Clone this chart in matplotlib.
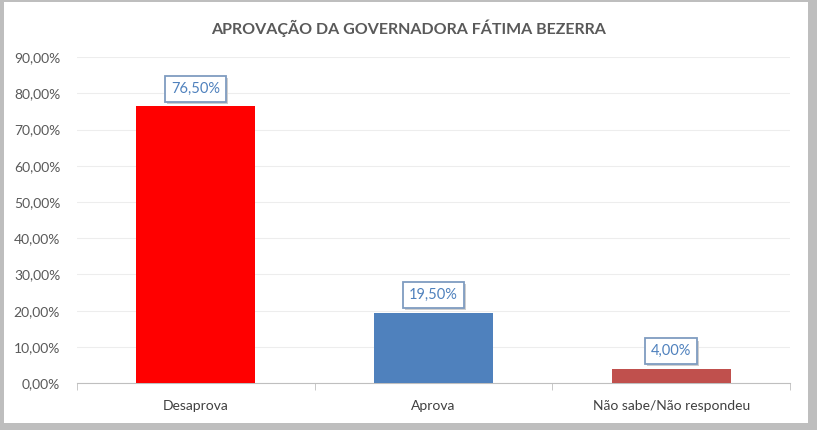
import matplotlib.pyplot as plt
import matplotlib.patheffects as pe
from matplotlib.patches import Rectangle

categorias = ["Desaprova", "Aprova", "Não sabe/Não respondeu"]
valores = [76.5, 19.5, 4.0]
rotulos = ["76,50%", "19,50%", "4,00%"]
cores = ["#FF0000", "#4F81BD", "#C0504D"]
yticks = [0, 10, 20, 30, 40, 50, 60, 70, 80, 90]

plt.rcParams['font.family'] = ['Lato', 'DejaVu Sans']

fig = plt.figure(figsize=(8.17, 4.3), dpi=100)
ax = fig.add_axes([0.094, 0.109, 0.873, 0.758])

x = range(len(categorias))
ax.bar(x, valores, width=0.5, color=cores, zorder=3)

# rotulos com caixa e sombra leve
for i, v in enumerate(valores):
    t = ax.annotate(rotulos[i], (i, v), xytext=(0, 12.5), textcoords="offset points",
                    ha="center", va="center", fontsize=10.5, color="#4F81BD", zorder=5,
                    bbox=dict(boxstyle="square,pad=0.4", fc="white", ec="#7F9CC0", lw=1.3))
    t.get_bbox_patch().set_path_effects(
        [pe.SimplePatchShadow(offset=(1.5, -1.5), shadow_rgbFace="#CFCFCF", alpha=1),
         pe.Normal()])

ax.set_xlim(-0.5, 2.5)
ax.set_ylim(0, 90)
ax.set_yticks(yticks)
ax.set_yticklabels([f"{t},00%" for t in yticks], fontsize=10, color="#595959")
ax.set_xticks(list(x))
ax.set_xticklabels(categorias, fontsize=10, color="#404040")
ax.set_xticks([-0.5, 0.5, 1.5, 2.5], minor=True)
ax.tick_params(axis="x", which="major", length=0, pad=12)
ax.tick_params(axis="x", which="minor", length=5, color="#BFBFBF", direction="out")
ax.tick_params(axis="y", length=0, pad=12)
ax.grid(axis="y", color="#EDEDED", lw=0.8, zorder=0)
for s in ["top", "right", "left"]:
    ax.spines[s].set_visible(False)
ax.spines["bottom"].set_color("#BFBFBF")

fig.text(0.5, 0.935, "APROVAÇÃO DA GOVERNADORA FÁTIMA BEZERRA", ha="center", va="center",
         fontsize=11.5, fontweight="bold", color="#595959")

# moldura cinza (mais grossa à direita e embaixo)
W, H = 817, 430
for (x0, y0, w, h) in [(0, 0, 4 / W, 1), (1 - 9 / W, 0, 9 / W, 1),
                       (0, 0, 1, 7 / H), (0, 1 - 2 / H, 1, 2 / H)]:
    fig.patches.append(Rectangle((x0, y0), w, h, transform=fig.transFigure,
                                 fc="#BEBEBE", ec="none"))

fig.savefig("out.png", dpi=100)
